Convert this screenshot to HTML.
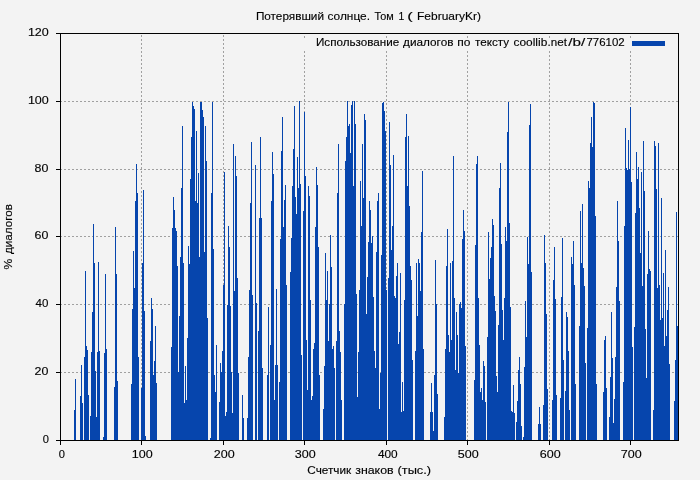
<!DOCTYPE html>
<html><head><meta charset="utf-8"><title>chart</title>
<style>
html,body{margin:0;padding:0;background:#f3f3f3;}
body{width:700px;height:480px;overflow:hidden;}
svg{display:block}
text{font-family:"Liberation Sans",sans-serif;font-size:11.5px;fill:#000;stroke:#000;stroke-width:0.15px}
</style></head><body>
<svg width="700" height="480" viewBox="0 0 700 480">
<rect width="700" height="480" fill="#f3f3f3"/>
<g stroke="#a0a0a0" stroke-width="1" stroke-dasharray="2 2" shape-rendering="crispEdges" fill="none"><line x1="60" y1="372.5" x2="678" y2="372.5"/><line x1="60" y1="304.5" x2="678" y2="304.5"/><line x1="60" y1="236.5" x2="678" y2="236.5"/><line x1="60" y1="169.5" x2="678" y2="169.5"/><line x1="60" y1="101.5" x2="678" y2="101.5"/><line x1="141.5" y1="35" x2="141.5" y2="440"/><line x1="223.5" y1="35" x2="223.5" y2="440"/><line x1="304.5" y1="35" x2="304.5" y2="440"/><line x1="386.5" y1="35" x2="386.5" y2="440"/><line x1="467.5" y1="35" x2="467.5" y2="440"/><line x1="549.5" y1="35" x2="549.5" y2="440"/><line x1="630.5" y1="35" x2="630.5" y2="440"/></g>
<rect x="300" y="34" width="378" height="17" fill="#f3f3f3" shape-rendering="crispEdges"/>
<g fill="#a0a0a0" shape-rendering="crispEdges"><rect x="304" y="36" width="1" height="2"/><rect x="386" y="36" width="1" height="2"/><rect x="467" y="36" width="1" height="2"/><rect x="549" y="36" width="1" height="2"/><rect x="630" y="36" width="1" height="2"/></g>
<path d="M74 410h1V440h-1zM75 379h1V440h-1zM80 396h1V440h-1zM81 365h1V440h-1zM82 403h1V440h-1zM84 357h1V440h-1zM85 271h1V440h-1zM86 346h1V440h-1zM87 350h1V440h-1zM88 395h1V440h-1zM90 416h1V440h-1zM91 352h1V440h-1zM92 312h1V440h-1zM93 224h1V440h-1zM94 263h1V440h-1zM95 371h1V440h-1zM96 417h1V440h-1zM97 352h1V440h-1zM98 262h1V440h-1zM99 351h1V440h-1zM103 437h1V440h-1zM104 353h1V440h-1zM105 274h1V440h-1zM106 349h1V440h-1zM114 387h1V440h-1zM115 227h1V440h-1zM116 274h1V440h-1zM117 381h1V440h-1zM131 384h1V440h-1zM132 309h1V440h-1zM133 251h1V440h-1zM134 288h1V440h-1zM135 201h1V440h-1zM136 164h1V440h-1zM137 193h1V440h-1zM138 357h1V440h-1zM141 388h1V440h-1zM142 263h1V440h-1zM143 190h1V440h-1zM144 311h1V440h-1zM145 436h1V440h-1zM150 341h1V440h-1zM151 298h1V440h-1zM152 309h1V440h-1zM153 375h1V440h-1zM154 361h1V440h-1zM155 326h1V440h-1zM156 383h1V440h-1zM171 347h1V440h-1zM172 228h1V440h-1zM173 197h1V440h-1zM174 210h1V440h-1zM175 228h1V440h-1zM176 231h1V440h-1zM177 266h1V440h-1zM178 372h1V440h-1zM179 316h1V440h-1zM180 257h1V440h-1zM181 188h1V440h-1zM182 126h1V440h-1zM183 263h1V440h-1zM184 403h1V440h-1zM185 366h1V440h-1zM186 400h1V440h-1zM187 338h1V440h-1zM188 246h1V440h-1zM189 264h1V440h-1zM190 179h1V440h-1zM191 137h1V440h-1zM192 102h1V440h-1zM193 106h1V440h-1zM194 109h1V440h-1zM195 201h1V440h-1zM196 131h1V440h-1zM197 203h1V440h-1zM198 173h1V440h-1zM199 257h1V440h-1zM200 102h1V440h-1zM201 102h1V440h-1zM202 110h1V440h-1zM203 117h1V440h-1zM204 252h1V440h-1zM205 126h1V440h-1zM206 161h1V440h-1zM207 318h1V440h-1zM210 438h1V440h-1zM211 193h1V440h-1zM212 102h1V440h-1zM213 249h1V440h-1zM214 375h1V440h-1zM215 392h1V440h-1zM216 345h1V440h-1zM219 402h1V440h-1zM220 363h1V440h-1zM221 372h1V440h-1zM222 351h1V440h-1zM223 285h1V440h-1zM224 172h1V440h-1zM225 416h1V440h-1zM226 412h1V440h-1zM227 305h1V440h-1zM228 226h1V440h-1zM229 247h1V440h-1zM230 306h1V440h-1zM231 372h1V440h-1zM232 413h1V440h-1zM233 144h1V440h-1zM234 291h1V440h-1zM235 156h1V440h-1zM236 176h1V440h-1zM237 278h1V440h-1zM238 373h1V440h-1zM242 395h1V440h-1zM243 418h1V440h-1zM247 418h1V440h-1zM248 357h1V440h-1zM249 290h1V440h-1zM250 203h1V440h-1zM251 142h1V440h-1zM252 295h1V440h-1zM255 165h1V440h-1zM256 303h1V440h-1zM258 331h1V440h-1zM259 218h1V440h-1zM260 137h1V440h-1zM261 218h1V440h-1zM262 368h1V440h-1zM267 375h1V440h-1zM268 307h1V440h-1zM270 345h1V440h-1zM271 201h1V440h-1zM272 152h1V440h-1zM273 174h1V440h-1zM274 400h1V440h-1zM275 365h1V440h-1zM276 289h1V440h-1zM277 365h1V440h-1zM279 382h1V440h-1zM280 239h1V440h-1zM281 151h1V440h-1zM282 117h1V440h-1zM283 227h1V440h-1zM284 200h1V440h-1zM285 185h1V440h-1zM286 285h1V440h-1zM290 272h1V440h-1zM291 238h1V440h-1zM292 186h1V440h-1zM293 149h1V440h-1zM294 106h1V440h-1zM295 197h1V440h-1zM296 214h1V440h-1zM297 157h1V440h-1zM298 188h1V440h-1zM299 101h1V440h-1zM300 184h1V440h-1zM301 355h1V440h-1zM303 211h1V440h-1zM304 112h1V440h-1zM305 176h1V440h-1zM306 340h1V440h-1zM307 390h1V440h-1zM308 186h1V440h-1zM309 196h1V440h-1zM310 300h1V440h-1zM311 400h1V440h-1zM312 396h1V440h-1zM313 349h1V440h-1zM314 343h1V440h-1zM315 227h1V440h-1zM316 167h1V440h-1zM317 185h1V440h-1zM318 247h1V440h-1zM319 375h1V440h-1zM323 409h1V440h-1zM324 366h1V440h-1zM325 253h1V440h-1zM326 300h1V440h-1zM327 271h1V440h-1zM328 341h1V440h-1zM329 304h1V440h-1zM330 235h1V440h-1zM331 267h1V440h-1zM332 349h1V440h-1zM333 346h1V440h-1zM334 368h1V440h-1zM336 341h1V440h-1zM337 193h1V440h-1zM338 144h1V440h-1zM339 331h1V440h-1zM340 352h1V440h-1zM341 400h1V440h-1zM344 304h1V440h-1zM345 161h1V440h-1zM346 137h1V440h-1zM347 101h1V440h-1zM348 126h1V440h-1zM349 124h1V440h-1zM350 153h1V440h-1zM351 105h1V440h-1zM352 101h1V440h-1zM353 186h1V440h-1zM354 101h1V440h-1zM355 124h1V440h-1zM356 294h1V440h-1zM357 397h1V440h-1zM358 352h1V440h-1zM359 290h1V440h-1zM360 181h1V440h-1zM361 226h1V440h-1zM362 144h1V440h-1zM363 198h1V440h-1zM364 114h1V440h-1zM365 120h1V440h-1zM366 314h1V440h-1zM367 277h1V440h-1zM368 242h1V440h-1zM369 201h1V440h-1zM370 210h1V440h-1zM371 243h1V440h-1zM372 236h1V440h-1zM373 297h1V440h-1zM374 351h1V440h-1zM375 368h1V440h-1zM376 252h1V440h-1zM377 201h1V440h-1zM378 193h1V440h-1zM379 409h1V440h-1zM380 373h1V440h-1zM381 255h1V440h-1zM382 103h1V440h-1zM383 102h1V440h-1zM384 111h1V440h-1zM385 131h1V440h-1zM386 290h1V440h-1zM388 278h1V440h-1zM389 122h1V440h-1zM390 165h1V440h-1zM391 250h1V440h-1zM392 226h1V440h-1zM393 155h1V440h-1zM394 296h1V440h-1zM395 298h1V440h-1zM396 276h1V440h-1zM397 263h1V440h-1zM398 344h1V440h-1zM399 332h1V440h-1zM400 273h1V440h-1zM401 412h1V440h-1zM402 382h1V440h-1zM403 411h1V440h-1zM404 300h1V440h-1zM405 137h1V440h-1zM406 114h1V440h-1zM407 186h1V440h-1zM408 136h1V440h-1zM409 206h1V440h-1zM410 266h1V440h-1zM411 280h1V440h-1zM412 360h1V440h-1zM415 351h1V440h-1zM416 263h1V440h-1zM417 316h1V440h-1zM418 259h1V440h-1zM419 263h1V440h-1zM420 291h1V440h-1zM421 232h1V440h-1zM422 171h1V440h-1zM423 349h1V440h-1zM430 412h1V440h-1zM431 383h1V440h-1zM432 412h1V440h-1zM433 431h1V440h-1zM434 375h1V440h-1zM435 260h1V440h-1zM436 304h1V440h-1zM437 394h1V440h-1zM444 417h1V440h-1zM445 349h1V440h-1zM446 266h1V440h-1zM447 229h1V440h-1zM448 335h1V440h-1zM449 352h1V440h-1zM450 263h1V440h-1zM451 340h1V440h-1zM452 261h1V440h-1zM453 156h1V440h-1zM454 298h1V440h-1zM455 370h1V440h-1zM456 312h1V440h-1zM457 335h1V440h-1zM458 373h1V440h-1zM459 304h1V440h-1zM460 302h1V440h-1zM461 308h1V440h-1zM462 239h1V440h-1zM463 210h1V440h-1zM464 231h1V440h-1zM465 346h1V440h-1zM474 380h1V440h-1zM475 245h1V440h-1zM476 164h1V440h-1zM477 156h1V440h-1zM478 298h1V440h-1zM479 345h1V440h-1zM480 392h1V440h-1zM481 388h1V440h-1zM482 400h1V440h-1zM483 361h1V440h-1zM484 366h1V440h-1zM485 402h1V440h-1zM487 337h1V440h-1zM488 232h1V440h-1zM489 279h1V440h-1zM490 258h1V440h-1zM491 247h1V440h-1zM492 219h1V440h-1zM493 225h1V440h-1zM494 296h1V440h-1zM495 311h1V440h-1zM496 376h1V440h-1zM497 392h1V440h-1zM498 325h1V440h-1zM499 188h1V440h-1zM500 163h1V440h-1zM501 244h1V440h-1zM502 310h1V440h-1zM503 340h1V440h-1zM504 298h1V440h-1zM505 227h1V440h-1zM506 241h1V440h-1zM507 132h1V440h-1zM508 102h1V440h-1zM509 223h1V440h-1zM510 307h1V440h-1zM511 411h1V440h-1zM512 412h1V440h-1zM513 385h1V440h-1zM514 413h1V440h-1zM516 422h1V440h-1zM517 401h1V440h-1zM518 370h1V440h-1zM519 357h1V440h-1zM520 384h1V440h-1zM521 426h1V440h-1zM523 437h1V440h-1zM524 367h1V440h-1zM525 301h1V440h-1zM526 337h1V440h-1zM527 237h1V440h-1zM528 264h1V440h-1zM529 125h1V440h-1zM530 104h1V440h-1zM531 272h1V440h-1zM538 424h1V440h-1zM539 407h1V440h-1zM540 424h1V440h-1zM543 405h1V440h-1zM544 235h1V440h-1zM545 263h1V440h-1zM546 314h1V440h-1zM547 389h1V440h-1zM552 400h1V440h-1zM553 280h1V440h-1zM554 247h1V440h-1zM555 299h1V440h-1zM556 395h1V440h-1zM560 398h1V440h-1zM561 297h1V440h-1zM562 238h1V440h-1zM563 360h1V440h-1zM565 391h1V440h-1zM566 312h1V440h-1zM567 317h1V440h-1zM568 351h1V440h-1zM569 410h1V440h-1zM571 257h1V440h-1zM572 264h1V440h-1zM573 241h1V440h-1zM574 285h1V440h-1zM575 384h1V440h-1zM579 326h1V440h-1zM580 211h1V440h-1zM581 263h1V440h-1zM582 204h1V440h-1zM583 268h1V440h-1zM584 286h1V440h-1zM585 363h1V440h-1zM587 328h1V440h-1zM588 181h1V440h-1zM589 188h1V440h-1zM590 143h1V440h-1zM591 117h1V440h-1zM592 147h1V440h-1zM593 102h1V440h-1zM594 103h1V440h-1zM595 216h1V440h-1zM596 384h1V440h-1zM603 392h1V440h-1zM604 340h1V440h-1zM605 336h1V440h-1zM606 388h1V440h-1zM609 417h1V440h-1zM610 377h1V440h-1zM611 312h1V440h-1zM612 358h1V440h-1zM613 423h1V440h-1zM614 399h1V440h-1zM615 357h1V440h-1zM616 287h1V440h-1zM617 201h1V440h-1zM618 241h1V440h-1zM619 301h1V440h-1zM623 382h1V440h-1zM624 226h1V440h-1zM625 128h1V440h-1zM626 168h1V440h-1zM627 170h1V440h-1zM628 140h1V440h-1zM629 169h1V440h-1zM630 107h1V440h-1zM631 182h1V440h-1zM632 347h1V440h-1zM634 327h1V440h-1zM635 213h1V440h-1zM636 152h1V440h-1zM637 179h1V440h-1zM638 167h1V440h-1zM639 208h1V440h-1zM640 253h1V440h-1zM641 172h1V440h-1zM642 286h1V440h-1zM643 141h1V440h-1zM644 191h1V440h-1zM645 329h1V440h-1zM646 378h1V440h-1zM647 274h1V440h-1zM648 231h1V440h-1zM649 269h1V440h-1zM650 271h1V440h-1zM653 410h1V440h-1zM654 141h1V440h-1zM655 146h1V440h-1zM656 189h1V440h-1zM657 288h1V440h-1zM658 143h1V440h-1zM659 285h1V440h-1zM660 320h1V440h-1zM661 198h1V440h-1zM662 318h1V440h-1zM663 273h1V440h-1zM664 346h1V440h-1zM665 250h1V440h-1zM666 336h1V440h-1zM667 310h1V440h-1zM668 287h1V440h-1zM669 364h1V440h-1zM674 401h1V440h-1zM675 360h1V440h-1zM676 212h1V440h-1zM677 326h1V440h-1z" fill="#0645ad" shape-rendering="crispEdges"/>
<rect x="632" y="41" width="33" height="5" fill="#0645ad" shape-rendering="crispEdges"/>
<g fill="#000" shape-rendering="crispEdges">
<rect x="60" y="33" width="619" height="1"/><rect x="60" y="440" width="619" height="1"/>
<rect x="60" y="33" width="1" height="408"/><rect x="678" y="33" width="1" height="408"/>
<rect x="56" y="440" width="5" height="1"/><rect x="56" y="372" width="5" height="1"/><rect x="56" y="304" width="5" height="1"/><rect x="56" y="236" width="5" height="1"/><rect x="56" y="169" width="5" height="1"/><rect x="56" y="101" width="5" height="1"/><rect x="56" y="33" width="5" height="1"/><rect x="60" y="440" width="1" height="5"/><rect x="141" y="440" width="1" height="5"/><rect x="223" y="440" width="1" height="5"/><rect x="304" y="440" width="1" height="5"/><rect x="386" y="440" width="1" height="5"/><rect x="467" y="440" width="1" height="5"/><rect x="549" y="440" width="1" height="5"/><rect x="630" y="440" width="1" height="5"/></g>
<g style="opacity:0.999"><text transform="translate(42.80 443) scale(0.9667 1)">0</text><text transform="translate(34.52 375) scale(1.0833 1)">20</text><text transform="translate(35.60 307) scale(1.0000 1)">40</text><text transform="translate(34.52 239) scale(1.0833 1)">60</text><text transform="translate(34.52 172) scale(1.0833 1)">80</text><text transform="translate(27.91 104) scale(1.0889 1)">100</text><text transform="translate(27.91 36) scale(1.0889 1)">120</text><text transform="translate(58.80 457.7) scale(0.9667 1)">0</text><text transform="translate(131.81 457.7) scale(1.0889 1)">100</text><text transform="translate(213.81 457.7) scale(1.0889 1)">200</text><text transform="translate(294.81 457.7) scale(1.0889 1)">300</text><text transform="translate(377.90 457.7) scale(1.0316 1)">400</text><text transform="translate(457.81 457.7) scale(1.0889 1)">500</text><text transform="translate(539.81 457.7) scale(1.0889 1)">600</text><text transform="translate(620.81 457.7) scale(1.0889 1)">700</text><text transform="translate(255.88 20.3) scale(1.0231 1)">Потерявший</text><text transform="translate(327.47 20.3) scale(1.0333 1)">солнце.</text><text transform="translate(374.40 20.3) scale(0.9450 1)">Том</text><text transform="translate(398.40 20.3) scale(0.9000 1)">1</text><text transform="translate(407.25 20.3) scale(1.4500 1)">(</text><text transform="translate(417.06 20.3) scale(1.0417 1)">FebruaryKr)</text><text transform="translate(315.99 46) scale(1.0136 1)">Использование</text><text transform="translate(403.10 46) scale(1.0245 1)">диалогов</text><text transform="translate(457.25 46) scale(1.0455 1)">по</text><text transform="translate(475.10 46) scale(1.0152 1)">тексту</text><text transform="translate(513.56 46) scale(1.0355 1)">coollib</text><text transform="translate(547.59 46) scale(1.0111 1)">.net</text><text transform="translate(568.30 46) scale(1.3308 1)">/b/</text><text transform="translate(586.40 46) scale(0.9973 1)">776102</text><text transform="translate(307.28 474.3) scale(1.0238 1)">Счетчик</text><text transform="translate(355.22 474.3) scale(1.0765 1)">знаков</text><text transform="translate(397.48 474.3) scale(1.1179 1)">(тыс.)</text><text transform="translate(12.2 269.5) rotate(-90) translate(0.00 0) scale(1.0500 1)">%</text><text transform="translate(12.2 269.5) rotate(-90) translate(15.40 0) scale(1.0184 1)">диалогов</text></g>
</svg>
</body></html>
